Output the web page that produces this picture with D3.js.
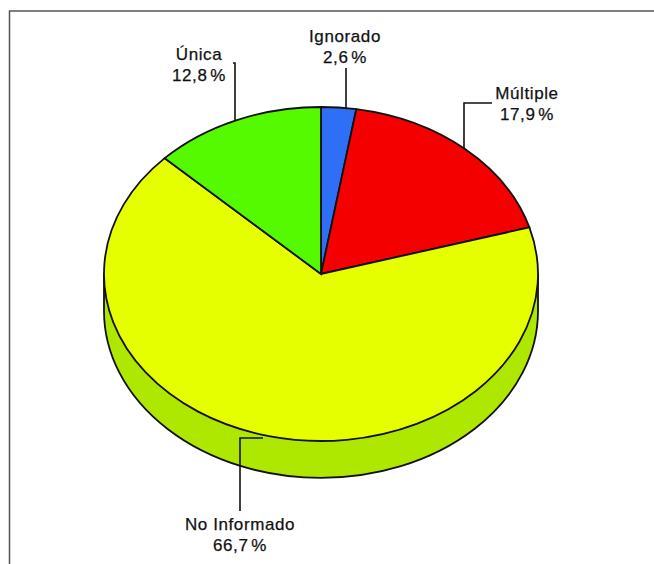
<!DOCTYPE html>
<html><head><meta charset="utf-8">
<script src="https://cdnjs.cloudflare.com/ajax/libs/d3/7.8.5/d3.min.js"></script>
<style>html,body{margin:0;padding:0;background:#fff}svg{display:block}text{font-family:"Liberation Sans",Arial,sans-serif;font-size:17px;fill:#111;text-anchor:middle;letter-spacing:.6px;stroke:#111;stroke-width:.25px}</style>
</head><body><svg id="c" width="654" height="564"></svg>
<script>
const categories=["Ignorado","Múltiple","No Informado","Única"];
const values=[2.6,17.9,66.7,12.8];
const valueLabels=["2,6 %","17,9 %","66,7 %","12,8 %"];
const colors=["#2f6ff5","#f50000","#e6ff00","#55fa00"];
const sideColor="#aee800";
const cx=321,cy=274,rx=217,ry=167,depth=37;
const svg=d3.select("#c");
svg.append("path").attr("d","M654 11H9.5V564").attr("fill","none").attr("stroke","#555").attr("stroke-width",1.5);
const yS=ry/rx;
const bx=d3.scaleLinear().domain([-1,1]).range([cx-rx,cx+rx]);
svg.append("path")
 .attr("d",`M${bx(-1)} ${cy}V${cy+depth}A${rx} ${ry} 0 0 0 ${bx(1)} ${cy+depth}V${cy}Z`)
 .attr("fill",sideColor).attr("stroke","#111").attr("stroke-width",1.8);
const pie=d3.pie().sort(null).value(d=>d);
const arcs=pie(values);
const arc=d3.arc().innerRadius(0).outerRadius(rx);
const g=svg.append("g").attr("transform",`translate(${cx},${cy}) scale(1,${yS})`);
g.selectAll("path").data(arcs).join("path").attr("d",arc)
 .attr("fill",(d,i)=>colors[i]).attr("stroke","#111").attr("stroke-width",1.8).attr("vector-effect","non-scaling-stroke");
const leaders=[
 "M346 108V68",
 "M464 148V103H492",
 "M240 511V438H263",
 "M233 63H235V121"];
svg.append("g").selectAll("path").data(leaders).join("path").attr("d",d=>d).attr("fill","none").attr("stroke","#111").attr("stroke-width",1.6);
const labelPos=[[345,42],[527,99],[240,530],[199,60]];
const lab=svg.append("g").selectAll("text").data(categories).join("text")
 .attr("x",(d,i)=>labelPos[i][0]).attr("y",(d,i)=>labelPos[i][1]);
lab.append("tspan").attr("x",(d,i)=>labelPos[i][0]).text(d=>d);
lab.append("tspan").attr("x",(d,i)=>labelPos[i][0]).attr("dy",21).attr("word-spacing","-2.5px").text((d,i)=>valueLabels[i]);
</script></body></html>
